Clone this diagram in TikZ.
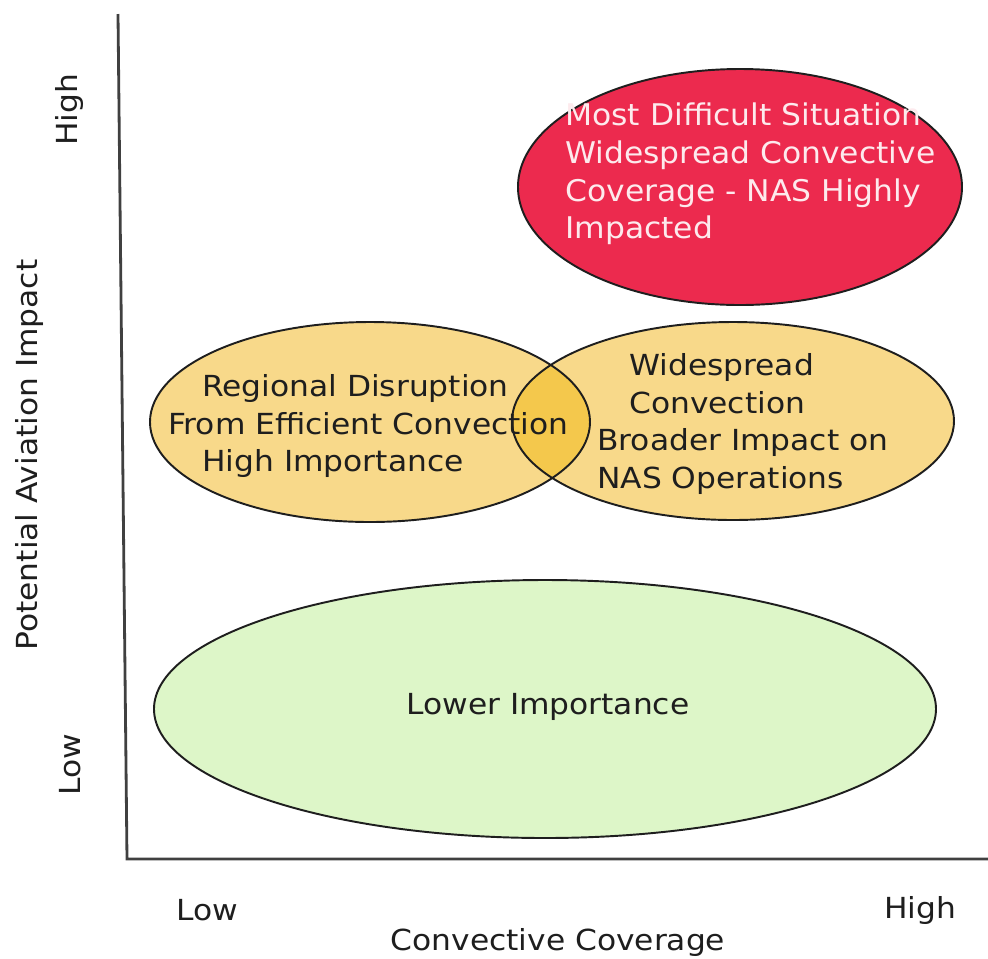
\documentclass[tikz,border=0pt]{standalone}
\usepackage{fontspec}
\setmainfont{DejaVu Sans}
\newfontfamily\condfont[FakeStretch=1.2]{DejaVu Sans Condensed}
\newfontfamily\widefont[FakeStretch=1.05]{DejaVu Sans}
\usepackage{tikz}
\usetikzlibrary{positioning}

\definecolor{critical}{HTML}{EC2A4E}
\definecolor{moderate}{HTML}{F8D98A}
\definecolor{overlap}{HTML}{F4C84C}
\definecolor{minor}{HTML}{DDF6C8}
\definecolor{ink}{HTML}{1E1E1E}

\begin{document}
\begin{tikzpicture}[x=0.02cm, y=0.02cm]
    \tikzset{
        region/.style   =   { draw=ink
                            , line width=1.1pt
        }
        , axis/.style   =   { draw=ink!85
                            , line width=1.6pt
        }
        , lbl/.style    =   { font=\condfont\fontsize{16.5}{21.5}\selectfont
                            , text=ink
                            , inner sep=0pt
                            , align=left
        }
        , hot/.style    =   { font=\widefont\fontsize{17}{21.5}\selectfont
                            , text=white!90!critical
                            , inner sep=0pt
                            , align=left
        }
    }
    \useasboundingbox (0,0) rectangle (988,-958);

    % bubbles
    \fill[critical] (740,-187) ellipse [x radius=222, y radius=118];
    \fill[moderate] (370,-422) ellipse [x radius=220, y radius=100];
    \fill[moderate] (733,-421) ellipse [x radius=221, y radius=99];
    \begin{scope}
        \clip (370,-422) ellipse [x radius=220, y radius=100];
        \fill[overlap] (733,-421) ellipse [x radius=221, y radius=99];
    \end{scope}
    \fill[minor] (545,-709) ellipse [x radius=391, y radius=129];

    \draw[region] (740,-187) ellipse [x radius=222, y radius=118];
    \draw[region] (370,-422) ellipse [x radius=220, y radius=100];
    \draw[region] (733,-421) ellipse [x radius=221, y radius=99];
    \draw[region] (545,-709) ellipse [x radius=391, y radius=129];

    % axes
    \coordinate (top)    at (118,-14);
    \coordinate (origin) at (127,-859);
    \coordinate (right)  at (988,-859);
    \draw[axis] (top) -- (origin) -- (right);

    % texts
    \node(worst)[hot, anchor=west] at (565,-174)
        {Most Difficult Situation\\Widespread Convective\\Coverage - NAS Highly\\Impacted};
    \node(regional)[lbl, anchor=west] at (168,-426)
        {\hspace*{0.68cm}Regional Disruption\\From Efficient Convection\\\hspace*{0.68cm}High Importance};
    \node(broad)[lbl, anchor=west] at (597,-424)
        {\hspace*{0.64cm}Widespread\\\hspace*{0.64cm}Convection\\Broader Impact on\\NAS Operations};
    \node(lower)[lbl] at (548,-707) {Lower Importance};

    \node(yhigh)[lbl, rotate=90] at (70,-110) {High};
    \node(ylow)[lbl, rotate=90] at (70,-765) {Low};
    \node(ytitle)[lbl, rotate=90] at (30,-455) {Potential Aviation Impact};
    \node(xlow)[lbl] at (207,-910) {Low};
    \node(xhigh)[lbl] at (920,-910) {High};
    \node(xtitle)[lbl] at (558,-942) {Convective Coverage};
\end{tikzpicture}
\end{document}
